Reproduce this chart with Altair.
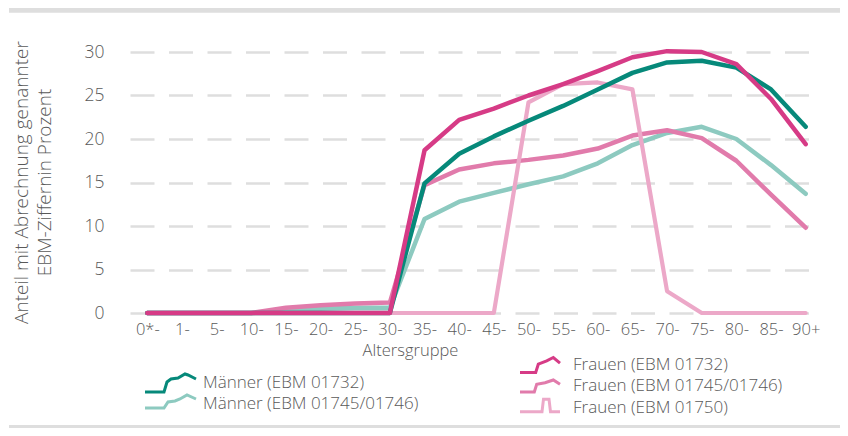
import altair as alt
import pandas as pd

categories = ["0*-", "1-", "5-", "10-", "15-", "20-", "25-", "30-", "35-", "40-",
              "45-", "50-", "55-", "60-", "65-", "70-", "75-", "80-", "85-", "90+"]

maenner_01732 = [0, 0, 0, 0, 0, 0, 0, 0, 14.9, 18.3, 20.3, 22.1, 23.8, 25.7, 27.6, 28.8, 29.0, 28.2, 25.7, 21.4]
maenner_01745 = [0, 0, 0, 0, 0.3, 0.5, 0.6, 0.6, 10.8, 12.8, 13.8, 14.8, 15.7, 17.2, 19.3, 20.7, 21.4, 20.0, 17.0, 13.7]
frauen_01732 = [0, 0, 0, 0, 0, 0, 0, 0, 18.7, 22.2, 23.5, 25.0, 26.3, 27.8, 29.4, 30.1, 30.0, 28.6, 24.6, 19.4]
frauen_01745 = [0, 0, 0, 0, 0.6, 0.9, 1.1, 1.2, 14.7, 16.5, 17.2, 17.6, 18.1, 18.9, 20.4, 21.0, 20.1, 17.5, 13.6, 9.8]
frauen_01750 = [0, 0, 0, 0, 0, 0, 0, 0, 0, 0, 0, 24.2, 26.3, 26.5, 25.7, 2.5, 0, 0, 0, 0]

NAMES = ["Männer (EBM 01732)", "Männer (EBM 01745/01746)",
         "Frauen (EBM 01732)", "Frauen (EBM 01745/01746)", "Frauen (EBM 01750)"]
COLORS = ["#06897a", "#8dcac0", "#d63b86", "#e17bab", "#eca8c8"]
VALUES = [maenner_01732, maenner_01745, frauen_01732, frauen_01745, frauen_01750]

rows = []
for name, vals in zip(NAMES, VALUES):
    for c, v in zip(categories, vals):
        rows.append({"Altersgruppe": c, "Anteil": v, "Serie": name})
df = pd.DataFrame(rows)

FONT = "Open Sans"
WEIGHT = 300
TXT = "#595959"
GRID = "#dedede"

# legend glyphs (small line icons), px coordinates relative to glyph left / vertical centre
LEG_SIZE = 324
S = LEG_SIZE ** 0.5 / 2.0


def glyph(pts, dy=0.0):
    out = []
    for i, (x, y) in enumerate(pts):
        out.append(("M" if i == 0 else "L") + f"{-1 + x / S:.3f},{(y + dy) / S:.3f}")
    return " ".join(out)


GLYPHS = [
    glyph([(0, 9), (19, 9), (22, -1), (26, -4), (33, -5), (40, -9), (43, -8), (51, -4)]),
    glyph([(0, 6.5), (19, 6.5), (23, 0.5), (30, -0.5), (35, -2.5), (42, -6.5), (51, -2.5)], dy=-2.5),
    glyph([(0, 7.5), (15.7, 7.5), (18.3, -0.8), (26.7, -4.2), (33.3, -7.5), (40, -1.8)]),
    glyph([(0, 6), (14.3, 6), (16.7, -1.7), (25, -3.3), (33.3, -6), (40, -1.7)]),
    glyph([(0, 6.35), (22, 6.35), (23.5, -6.35), (29, -6.35), (30.5, 6.35), (40, 6.35)], dy=-2.5),
]
# legend placement (relative to plot origin): x, y, labelOffset
LEG_POS = [(25.5, 320.5, 38.5), (25.5, 341.5, 38.5),
           (400.5, 302.5, 33.5), (400.5, 323.5, 33.5), (400.5, 345.5, 33.5)]

x_enc = alt.X(
    "Altersgruppe:N", sort=categories,
    scale=alt.Scale(type="point", range=[12, 705]),
    axis=alt.Axis(
        title="Altersgruppe", labelAngle=0, labelFont=FONT, labelFontSize=16.5,
        labelFontWeight=WEIGHT,
        labelColor=TXT, labelBaseline="middle", labelPadding=16,
        ticks=False, domain=False, grid=False,
        titleFont=FONT, titleFontSize=16.5, titleFontWeight=WEIGHT, titleColor=TXT,
        titleX=292, titleY=37, titleBaseline="middle", titleAlign="center",
    ),
)
y_enc = alt.Y(
    "Anteil:Q",
    scale=alt.Scale(domain=[0, 30], nice=False, zero=True),
    axis=alt.Axis(
        title=["Anteil mit Abrechnung genannter", "EBM-Ziffernin Prozent"],
        values=[0, 5, 10, 15, 20, 25, 30], labelFont=FONT, labelFontSize=17.5,
        labelFontWeight=WEIGHT,
        labelColor=TXT, labelPadding=14, ticks=False, domain=False,
        grid=True, gridColor=GRID, gridWidth=2.5, gridDash=[24, 14.5],
        titleFont=FONT, titleFontSize=19, titleFontWeight=WEIGHT, titleColor=TXT,
        titleAngle=270, titleAlign="center", titleBaseline="top",
        titleX=-106, titleY=130, titleLineHeight=23,
    ),
)

base = alt.Chart(df).encode(x=x_enc, y=y_enc)


def series_layer(i, w=4.5):
    lx, ly, off = LEG_POS[i]
    leg = alt.Legend(
        orient="none", legendX=lx, legendY=ly, title=None,
        labelFont=FONT, labelFontSize=17, labelFontWeight=WEIGHT, labelColor=TXT,
        labelLimit=400,
        labelOffset=off, symbolSize=LEG_SIZE, symbolStrokeWidth=3,
        symbolType=GLYPHS[i], symbolFillColor="transparent",
    )
    return base.transform_filter(alt.datum.Serie == NAMES[i]).mark_line(
        strokeWidth=w, strokeCap="round", strokeJoin="round"
    ).encode(color=alt.Color("Serie:N", scale=alt.Scale(domain=[NAMES[i]], range=[COLORS[i]]),
                             legend=leg))


deco = pd.DataFrame({"k": [0]})
top_bar = alt.Chart(deco).mark_rule(color=GRID, strokeWidth=8).encode(
    x=alt.value(-109), x2=alt.value(722), y=alt.value(-43.3))
bottom_bar = alt.Chart(deco).mark_rule(color=GRID, strokeWidth=3).encode(
    x=alt.value(-109), x2=alt.value(722), y=alt.value(374.5))

chart = alt.layer(
    top_bar, bottom_bar,
    series_layer(1),
    series_layer(3),
    series_layer(4, 4.2),
    series_layer(0),
    series_layer(2),
).resolve_scale(color="independent").properties(
    width=722, height=261,
    padding={"left": 110, "top": 44, "right": 0, "bottom": 115},
    autosize=alt.AutoSizeParams(type="none"),
).configure_view(stroke=None)

chart.save("out.html", embed_options={"renderer": "svg", "actions": False})
